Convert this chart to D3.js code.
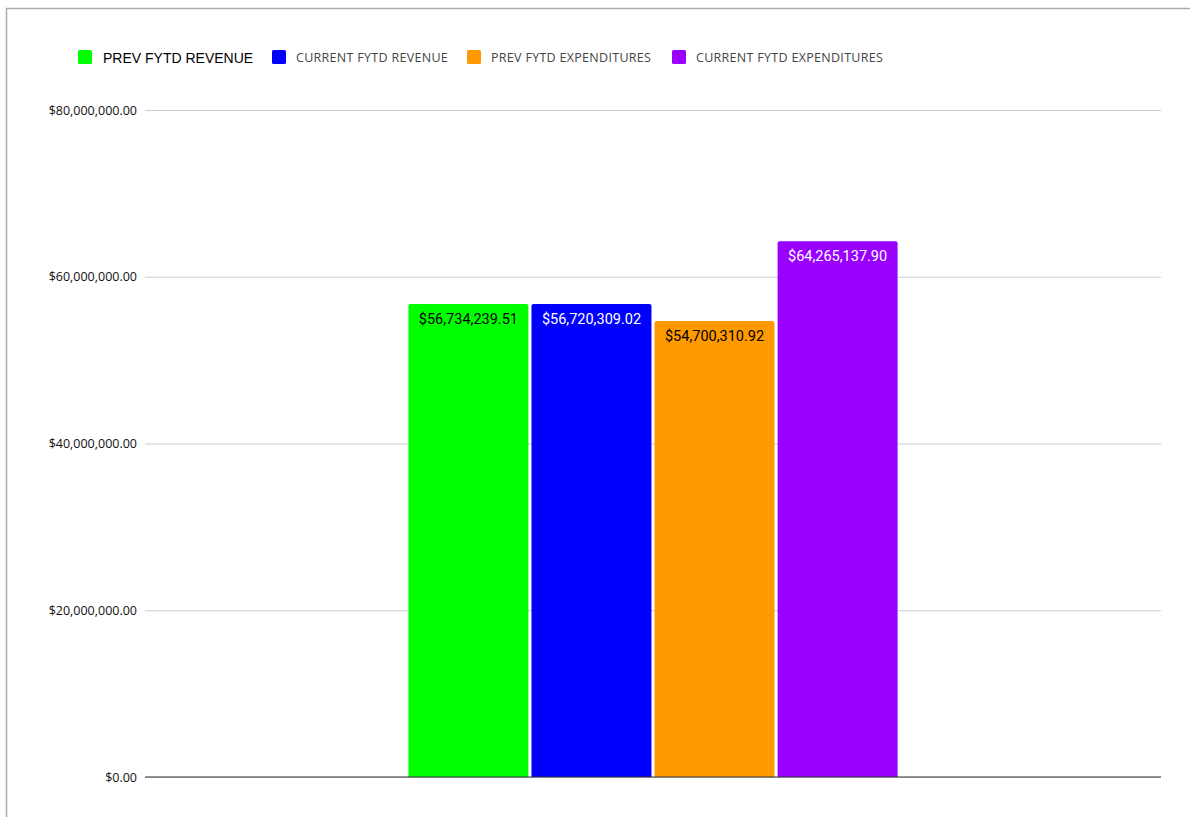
<!DOCTYPE html>
<html>
<head>
<meta charset="utf-8">
<script src="https://cdn.jsdelivr.net/npm/d3@7"></script>
<style>
  body { margin: 0; background: #fff; }
  svg { display: block; }
</style>
</head>
<body>
<svg width="1190" height="817"></svg>
<script>
// data
var categories = [""];
var seriesNames = ["PREV FYTD REVENUE", "CURRENT FYTD REVENUE", "PREV FYTD EXPENDITURES", "CURRENT FYTD EXPENDITURES"];
var seriesValues = [56734239.51, 56720309.02, 54700310.92, 64265137.90];
var seriesColors = ["#00ff00", "#0000ff", "#ff9900", "#9900ff"];
var labelColors = ["#000", "#fff", "#000", "#fff"];
var yTicks = [0, 20000000, 40000000, 60000000, 80000000];

var svg = d3.select("svg");

// frame
svg.append("path")
  .attr("d", "M6.5,817 V8.5 H1190")
  .attr("fill", "none").attr("stroke", "#aaa").attr("stroke-width", 1.5);

var pLeft = 145, pRight = 1161, pTop = 110, pBottom = 777;

var y = d3.scaleLinear().domain([0, 80000000]).range([pBottom, pTop]);
var x0 = d3.scaleBand().domain(categories).range([pLeft, pRight]).padding(0.35);
var x1 = d3.scaleBand().domain(seriesNames).range([0, x0.bandwidth()]).paddingInner(0.025);

var fmt = d3.format("$,.2f");

// grid + y axis
var yAxis = d3.axisLeft(y).tickValues(yTicks).tickFormat(fmt).tickSize(-(pRight - pLeft)).tickPadding(8);
var ga = svg.append("g").attr("transform", "translate(" + pLeft + ",0)").call(yAxis);
ga.select(".domain").remove();
ga.selectAll(".tick line").attr("stroke", "#ccc");
ga.selectAll(".tick text")
  .attr("font-family", "Open Sans").attr("font-size", 12.5).attr("fill", "#111");

// bars
var g = svg.append("g").selectAll("g").data(categories).enter().append("g")
  .attr("transform", function(d) { return "translate(" + x0(d) + ",0)"; });

var bars = g.selectAll("g.bar").data(function() {
  return seriesNames.map(function(s, i) { return { name: s, value: seriesValues[i], i: i }; });
}).enter().append("g").attr("class", "bar");

bars.append("path")
  .attr("fill", function(d) { return seriesColors[d.i]; })
  .attr("d", function(d) {
    var x = x1(d.name), w = x1.bandwidth(), yt = y(d.value), yb = y(0), r = 2;
    return "M" + x + "," + yb + "V" + (yt + r) + "Q" + x + "," + yt + " " + (x + r) + "," + yt +
      "H" + (x + w - r) + "Q" + (x + w) + "," + yt + " " + (x + w) + "," + (yt + r) + "V" + yb + "Z";
  });

bars.append("text")
  .attr("x", function(d) { return x1(d.name) + x1.bandwidth() / 2; })
  .attr("y", function(d) { return y(d.value) + 20; })
  .attr("text-anchor", "middle")
  .attr("font-family", "Roboto").attr("font-size", 14.5)
  .attr("fill", function(d) { return labelColors[d.i]; })
  .text(function(d) { return fmt(d.value); });

// baseline
svg.append("line")
  .attr("x1", pLeft).attr("x2", pRight).attr("y1", y(0)).attr("y2", y(0))
  .attr("stroke", "#333").attr("stroke-width", 1);

// legend
var legendX = [78, 272, 467, 672];
var lg = svg.append("g").selectAll("g").data(seriesNames).enter().append("g")
  .attr("transform", function(d, i) { return "translate(" + legendX[i] + ",50)"; });
lg.append("rect").attr("width", 14).attr("height", 14).attr("rx", 1.5)
  .attr("fill", function(d, i) { return seriesColors[i]; });
lg.append("text")
  .attr("x", function(d, i) { return i === 0 ? 25 : 24; })
  .attr("y", function(d, i) { return i === 0 ? 12.5 : 11.5; })
  .attr("font-family", function(d, i) { return i === 0 ? "Liberation Sans" : "Open Sans"; })
  .attr("font-size", function(d, i) { return i === 0 ? 14 : 12.5; })
  .attr("letter-spacing", function(d, i) { return i === 0 ? 0 : 0.3; })
  .attr("fill", function(d, i) { return i === 0 ? "#000" : "#444"; })
  .text(function(d) { return d; });
</script>
</body>
</html>
